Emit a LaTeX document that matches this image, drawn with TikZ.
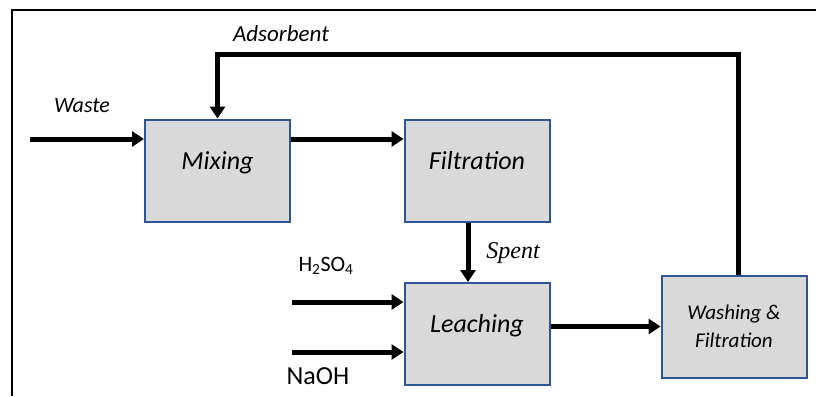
\documentclass[tikz,border=0pt]{standalone}
\usepackage{fontspec}
\setmainfont{Carlito}
\newfontfamily\spentfont{Liberation Serif}
\usetikzlibrary{arrows.meta}
\definecolor{boxfill}{HTML}{D9D9D9}
\definecolor{boxline}{HTML}{2F5597}
\tikzset{
  box/.style = {draw=boxline, fill=boxfill, line width=2pt, minimum width=145pt, minimum height=102pt, inner sep=0pt},
  unit/.style = {box, text height=18pt, text depth=21pt, font=\fontsize{26}{28}\selectfont\itshape},
  flow/.style = {line width=5pt, -{Triangle[width=15pt,length=12pt]}},
  tag/.style = {font=\fontsize{22}{24}\selectfont\itshape, inner sep=0pt}
}
\begin{document}
\begin{tikzpicture}[x=1pt,y=-1pt]
  \useasboundingbox (0,0) rectangle (816,396);
  \draw[line width=1.5pt] (12,396) -- (12,10) -- (816,10);

  \node [unit] (mix) at (217.5,170.5) {Mixing};
  \node [unit] (filt) at (477,170.5) {Filtration};
  \node [unit] (leach) at (477,334) {Leaching};
  \node [box, font=\fontsize{21}{28}\selectfont\itshape, align=center] (wash) at (734,326.5) {Washing \&\\Filtration};

  \coordinate (wastein) at (30,139);
  \coordinate (acidin) at (292,302);
  \coordinate (basein) at (292,352);
  \coordinate (loop) at (738,55);

  \draw [flow] (wastein) -- (wastein -| mix.west);
  \draw [flow] (mix.east |- wastein) -- (filt.west |- wastein);
  \draw [flow] ([xshift=-9pt]filt.south) -- ([xshift=-9pt]leach.north);
  \draw [flow] (acidin) -- (acidin -| leach.west);
  \draw [flow] (basein) -- (basein -| leach.west);
  \draw [flow] (leach.east |- wash) -- (wash.west);
  \draw [flow] (loop |- wash.north) -- (loop) -| (mix.north);

  \node [tag] (waste) at (82,106) {Waste};
  \node [tag, font=\fontsize{23}{25}\selectfont\itshape] (ads) at (281,34) {Adsorbent};
  \node [tag, font=\fontsize{24}{26}\selectfont\spentfont\itshape] (spent) at (513,253) {Spent};
  \node [inner sep=0pt, font=\fontsize{22}{24}\selectfont] (acid) at (326,266) {H\textsubscript{2}SO\textsubscript{4}};
  \node [inner sep=0pt, font=\fontsize{26}{28}\selectfont] (base) at (318,376) {NaOH};
\end{tikzpicture}
\end{document}
